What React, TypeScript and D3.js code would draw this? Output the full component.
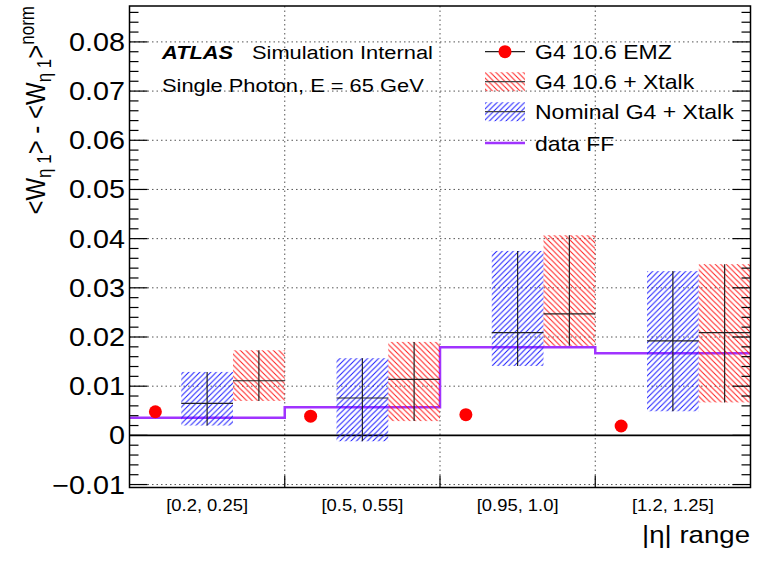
import React from "react";
import * as d3 from "d3";

const categories = ["[0.2, 0.25]", "[0.5, 0.55]", "[0.95, 1.0]", "[1.2, 1.25]"];
const emzValues = [0.0048, 0.0039, 0.0042, 0.0019];
const nominalValues = [0.0065, 0.0076, 0.0209, 0.0192];
const nominalLow = [0.002, -0.0012, 0.0141, 0.0049];
const nominalHigh = [0.0129, 0.0157, 0.0375, 0.0334];
const xtalkValues = [0.0111, 0.0114, 0.0247, 0.0209];
const xtalkLow = [0.007, 0.0029, 0.0182, 0.0067];
const xtalkHigh = [0.0173, 0.019, 0.0407, 0.0348];
const dataFF = [0.0036, 0.0057, 0.0179, 0.0167];
const yTicks = [-0.01, 0, 0.01, 0.02, 0.03, 0.04, 0.05, 0.06, 0.07, 0.08];
const yTickLabels = ["\u22120.01", "0", "0.01", "0.02", "0.03", "0.04", "0.05", "0.06", "0.07", "0.08"];
const legendLabels = ["G4 10.6 EMZ", "G4 10.6 + Xtalk", "Nominal G4 + Xtalk", "data FF"];
const subSlots = ["emz", "nominal", "xtalk"];

const W = 770;
const H = 575;
const L = 129.5;
const R = 750.5;
const TOP = 6;
const BOT = 487.5;
const SX = 1.15;
const FONT = "'Liberation Sans', Arial, Helvetica, sans-serif";
const PURPLE = "#a033ff";

function T({ x, y, size, anchor = "start", weight = "normal", italic = false, children }: any) {
  return (
    <text
      transform={`translate(${x},${y}) scale(${SX},1)`}
      fontSize={size}
      textAnchor={anchor}
      fontWeight={weight}
      fontStyle={italic ? "italic" : "normal"}
      fontFamily={FONT}
      fill="#000"
    >
      {children}
    </text>
  );
}

export default function App() {
  const x = d3.scaleBand<string>().domain(categories).range([L, R]).padding(0);
  const bw = x.bandwidth();
  const sub = d3.scaleBand<string>().domain(subSlots).range([0, bw]).padding(0);
  const sw = sub.bandwidth();
  const y = d3.scaleLinear().domain([-0.0106, 0.0873]).range([BOT, TOP]);

  const minorTicks = d3.range(-0.01, 0.0871, 0.002).filter((v) => Math.abs(Math.round(v * 1000) % 10) > 0.5);

  const stepPts: [number, number][] = [];
  categories.forEach((c, i) => {
    stepPts.push([x(c)!, y(dataFF[i])]);
    stepPts.push([x(c)! + bw, y(dataFF[i])]);
  });
  const stepLine = d3.line()(stepPts) || "";

  const boxes = (slot: string, vals: number[], lo: number[], hi: number[], fill: string) =>
    categories.map((c, i) => {
      const x0 = x(c)! + sub(slot)!;
      const xc = x0 + sw / 2;
      return (
        <g key={slot + i}>
          <rect x={x0} y={y(hi[i])} width={sw} height={y(lo[i]) - y(hi[i])} fill={`url(#${fill})`} />
          <line x1={x0} x2={x0 + sw} y1={y(vals[i])} y2={y(vals[i])} stroke="#222" strokeWidth={1.2} />
          <line x1={xc} x2={xc} y1={y(hi[i])} y2={y(lo[i])} stroke="#222" strokeWidth={1.2} />
        </g>
      );
    });

  const legY = [51.7, 81.7, 111.7, 143];
  const legX0 = 485;
  const legX1 = 525;

  return (
    <svg width={W} height={H} style={{ position: "absolute", left: 0, top: 0, background: "#fff" }}>
      <defs>
        <pattern id="hatchRed" patternUnits="userSpaceOnUse" width={5.5} height={5.5}>
          <path d="M0,0 L5.5,5.5 M-1,4.5 L1,6.5 M4.5,-1 L6.5,1" stroke="#ff1a1a" strokeWidth={1} />
        </pattern>
        <pattern id="hatchBlue" patternUnits="userSpaceOnUse" width={5.5} height={5.5}>
          <path d="M0,5.5 L5.5,0 M-1,1 L1,-1 M4.5,6.5 L6.5,4.5" stroke="#1a1aff" strokeWidth={1} />
        </pattern>
      </defs>
      <rect x={0} y={0} width={W} height={H} fill="#fff" />

      {/* grid */}
      {yTicks.filter((v) => v !== 0).map((v) => (
        <line key={"gy" + v} x1={L} x2={R} y1={y(v)} y2={y(v)} stroke="#555" strokeDasharray="1.5,3" strokeWidth={1} />
      ))}
      {categories.slice(1).map((c) => (
        <line key={"gx" + c} x1={x(c)} x2={x(c)} y1={TOP} y2={BOT} stroke="#555" strokeDasharray="1.5,3" strokeWidth={1} />
      ))}

      {/* zero line */}
      <line x1={L} x2={R} y1={y(0)} y2={y(0)} stroke="#000" strokeWidth={1.8} />

      {/* data FF */}
      <path d={stepLine} fill="none" stroke={PURPLE} strokeWidth={2.5} />

      {boxes("nominal", nominalValues, nominalLow, nominalHigh, "hatchBlue")}
      {boxes("xtalk", xtalkValues, xtalkLow, xtalkHigh, "hatchRed")}

      {categories.map((c, i) => (
        <circle key={"emz" + i} cx={x(c)! + sub("emz")! + sw / 2} cy={y(emzValues[i])} r={6.5} fill="#ff0000" />
      ))}

      {/* frame */}
      <rect x={L} y={TOP} width={R - L} height={BOT - TOP} fill="none" stroke="#000" strokeWidth={1.5} />

      {/* y ticks */}
      {yTicks.map((v) => (
        <g key={"ty" + v}>
          <line x1={L} x2={L + 18} y1={y(v)} y2={y(v)} stroke="#000" strokeWidth={1.2} />
          <line x1={R} x2={R - 18} y1={y(v)} y2={y(v)} stroke="#000" strokeWidth={1.2} />
        </g>
      ))}
      {minorTicks.map((v) => (
        <g key={"my" + v}>
          <line x1={L} x2={L + 9} y1={y(v)} y2={y(v)} stroke="#000" strokeWidth={1.2} />
          <line x1={R} x2={R - 9} y1={y(v)} y2={y(v)} stroke="#000" strokeWidth={1.2} />
        </g>
      ))}
      {categories.slice(1).map((c) => (
        <line key={"tx" + c} x1={x(c)} x2={x(c)} y1={BOT} y2={BOT - 12} stroke="#000" strokeWidth={1.2} />
      ))}

      {/* y tick labels */}
      {yTicks.map((v, i) => (
        <T key={"yl" + v} x={125} y={y(v) + 9} size={25} anchor="end">
          {yTickLabels[i]}
        </T>
      ))}

      {/* x tick labels */}
      {categories.map((c) => (
        <T key={"xl" + c} x={x(c)! + bw / 2} y={511} size={16} anchor="middle">
          {c}
        </T>
      ))}

      {/* x title */}
      <T x={750} y={543} size={24} anchor="end">
        |η| range
      </T>

      {/* y title */}
      <text
        transform={`translate(45,6) scale(${SX},1) rotate(-90)`}
        fontSize={24}
        textAnchor="end"
        fontFamily={FONT}
        fill="#000"
      >
        {"<W"}
        <tspan fontSize={17} dy={5}>η 1</tspan>
        <tspan dy={-5}>{"> - <W"}</tspan>
        <tspan fontSize={17} dy={5}>η 1</tspan>
        <tspan dy={-5}>{">"}</tspan>
        <tspan fontSize={17} dy={-10}>norm</tspan>
      </text>

      {/* ATLAS label */}
      <T x={162} y={58.5} size={19} weight="bold" italic>
        ATLAS
      </T>
      <T x={252} y={58.5} size={19}>
        Simulation Internal
      </T>
      <T x={162} y={92} size={19}>
        Single Photon, E = 65 GeV
      </T>

      {/* legend */}
      <line x1={legX0} x2={legX1} y1={legY[0]} y2={legY[0]} stroke="#222" strokeWidth={1.2} />
      <circle cx={(legX0 + legX1) / 2} cy={legY[0]} r={6.5} fill="#ff0000" />
      <rect x={legX0} y={legY[1] - 9.5} width={legX1 - legX0} height={19} fill="url(#hatchRed)" />
      <line x1={legX0} x2={legX1} y1={legY[1]} y2={legY[1]} stroke="#444" strokeWidth={1.2} />
      <rect x={legX0} y={legY[2] - 9.5} width={legX1 - legX0} height={19} fill="url(#hatchBlue)" />
      <line x1={legX0} x2={legX1} y1={legY[2]} y2={legY[2]} stroke="#444" strokeWidth={1.2} />
      <line x1={legX0} x2={legX1} y1={legY[3]} y2={legY[3]} stroke={PURPLE} strokeWidth={2.5} />
      {legendLabels.map((t, i) => (
        <T key={"lg" + i} x={535} y={legY[i] + 7.5} size={20}>
          {t}
        </T>
      ))}
    </svg>
  );
}
